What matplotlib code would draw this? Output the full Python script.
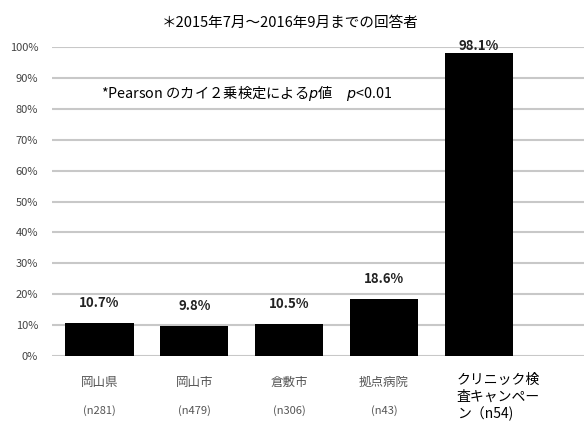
import matplotlib.pyplot as plt
from matplotlib.ticker import PercentFormatter

plt.rcParams['font.family'] = ['Noto Sans CJK JP', 'DejaVu Sans']

# data
categories = ['岡山県', '岡山市', '倉敷市', '拠点病院', 'クリニック検\n査キャンペー\nン（n54)']
sample_sizes = ['(n281)', '(n479)', '(n306)', '(n43)', '']
rates = [10.7, 9.8, 10.5, 18.6, 98.1]
y_ticks = [0, 10, 20, 30, 40, 50, 60, 70, 80, 90, 100]

fig = plt.figure(figsize=(5.84, 4.25), dpi=100)
ax = fig.add_axes([0.089, 0.1624, 0.911, 0.889 - 0.1624])

x = list(range(len(categories)))
ax.bar(x, rates, width=0.72, color='black', zorder=3)

for xi, v in zip(x, rates):
    # the top bar's label sits right on the bar in the original
    off = 0 if v > 90 else 9
    ax.annotate(f'{v}%', (xi, v), xytext=(0, off), textcoords='offset points',
                ha='center', va='bottom', fontsize=9.5, fontweight='bold',
                color='#222222')

ax.set_ylim(0, 100)
ax.set_xlim(-0.5, 5.11)
ax.set_yticks(y_ticks)
ax.yaxis.set_major_formatter(PercentFormatter(decimals=0))
ax.tick_params(axis='y', length=0, labelsize=8, labelcolor='#444444', pad=10)
ax.grid(axis='y', color='#c8c8c8', linewidth=1.5, zorder=0)
ax.set_axisbelow(True)
for s in ax.spines.values():
    s.set_visible(False)

ax.set_xticks([])
for xi, cat, n in zip(x[:-1], categories[:-1], sample_sizes[:-1]):
    ax.text(xi, -8.6, cat, ha='center', va='center', fontsize=9, color='#555555')
    ax.text(xi, -17.8, n, ha='center', va='center', fontsize=8, color='#555555')
ax.text(x[-1] - 0.23, -13.3, categories[-1], ha='left', va='center',
        fontsize=10, color='black', linespacing=1.25)

fig.text(0.497, 0.945, '＊2015年7月～2016年9月までの回答者', ha='center', va='center',
         fontsize=10.5)
ax.text(0.02, 85.0, '*Pearson のカイ２乗検定による$p$値\u3000$p$<0.01', ha='left',
        va='center', fontsize=10.3)

fig.savefig('out.png', dpi=100)
